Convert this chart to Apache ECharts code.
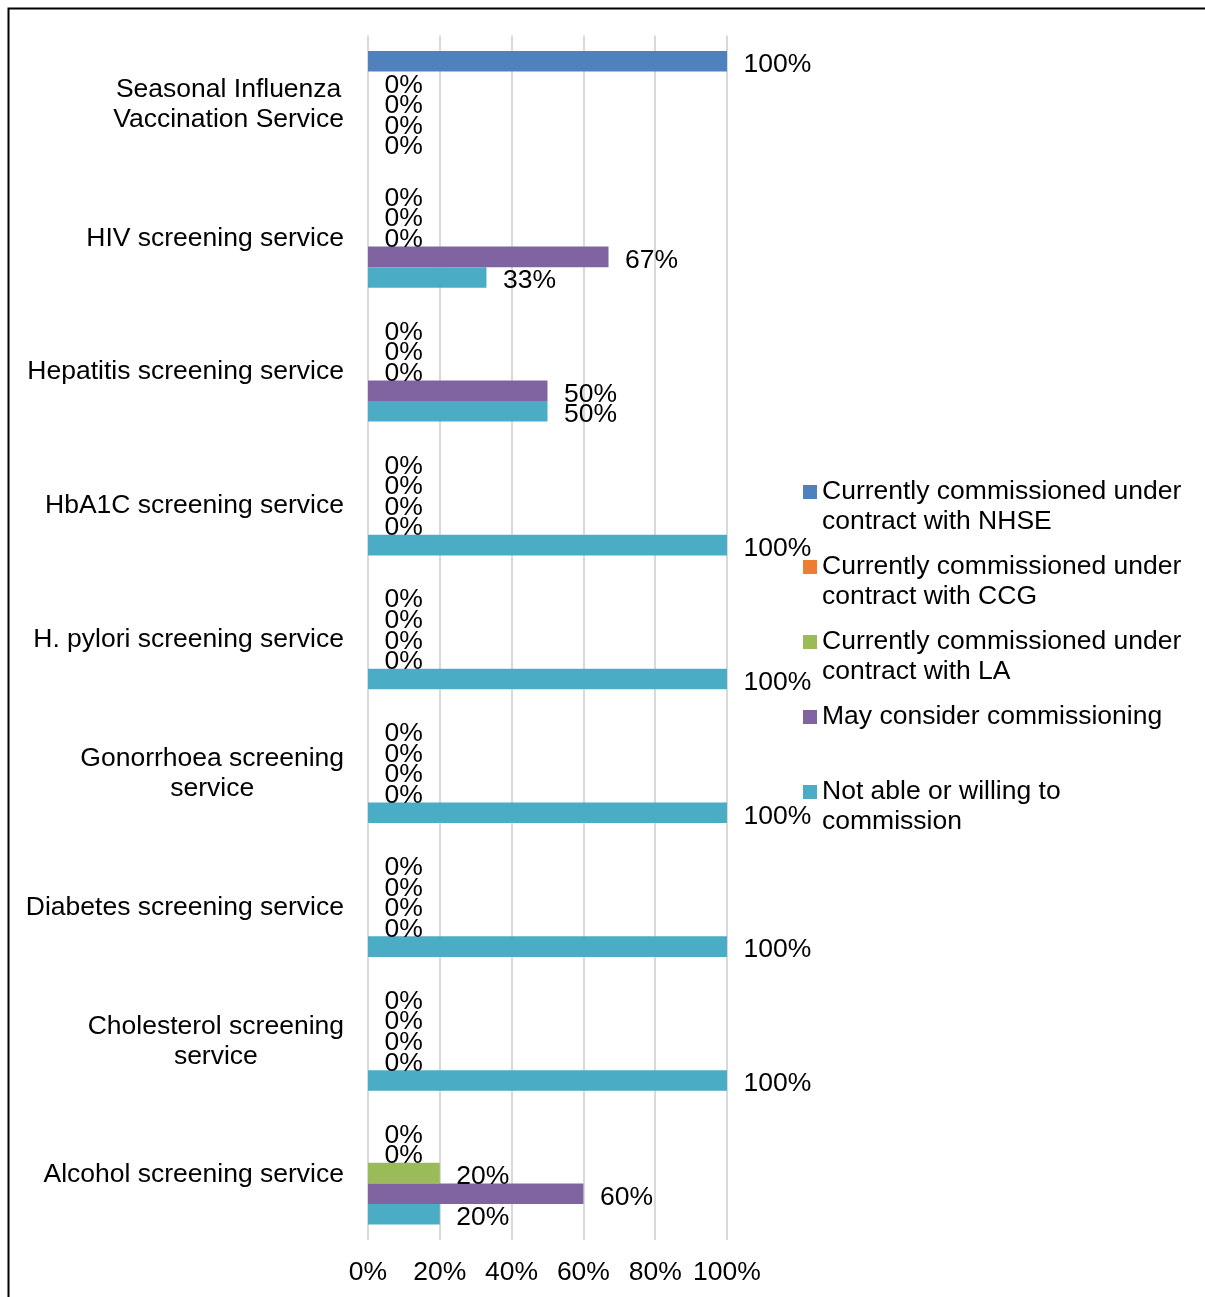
<!DOCTYPE html>
<html><head><meta charset="utf-8">
<script src="https://cdn.jsdelivr.net/npm/echarts@6/dist/echarts.min.js"></script>
<style>html,body{margin:0;padding:0;background:#fff}#c{width:1205px;height:1297px}</style>
</head><body><div id="c"></div>
<script>
const categories = [
  'Seasonal Influenza\nVaccination Service',
  'HIV screening service',
  'Hepatitis screening service',
  'HbA1C screening service',
  'H. pylori screening service',
  'Gonorrhoea screening\nservice',
  'Diabetes screening service',
  'Cholesterol screening\nservice',
  'Alcohol screening service'
];
const seriesNames = [
  'Currently commissioned under contract with NHSE',
  'Currently commissioned under contract with CCG',
  'Currently commissioned under contract with LA',
  'May consider commissioning',
  'Not able or willing to commission'
];
const legendLabels = [
  'Currently commissioned under\ncontract with NHSE',
  'Currently commissioned under\ncontract with CCG',
  'Currently commissioned under\ncontract with LA',
  'May consider commissioning',
  'Not able or willing to\ncommission'
];
const nhse        = [100, 0, 0, 0, 0, 0, 0, 0, 0];
const ccg         = [0, 0, 0, 0, 0, 0, 0, 0, 0];
const la          = [0, 0, 0, 0, 0, 0, 0, 0, 20];
const mayConsider = [0, 67, 50, 0, 0, 0, 0, 0, 60];
const notAble     = [0, 33, 50, 100, 100, 100, 100, 100, 20];
const xTickLabels = ['0%', '20%', '40%', '60%', '80%', '100%'];
const colors = ['#4F81BD', '#ED7D31', '#9BBB59', '#8064A2', '#4BACC6'];

const FONT = "'Liberation Sans', Arial, sans-serif";
const FS = 26.5;
const seriesData = [nhse, ccg, la, mayConsider, notAble];
const legendIconCenters = [492, 567, 642, 717, 792];

const chart = echarts.init(document.getElementById('c'), null, {renderer: 'canvas'});
const option = {
  backgroundColor: '#fff',
  animation: false,
  color: colors,
  textStyle: {fontFamily: FONT, color: '#000'},
  graphic: [{
    type: 'rect', left: 6, top: 6, silent: true, z: 100,
    shape: {x: 0, y: 0, width: 1400, height: 1500},
    style: {fill: 'none', stroke: '#000', lineWidth: 2}
  }],
  grid: {left: 368, right: 478, top: 35.5, bottom: 57},
  xAxis: {
    type: 'value', min: 0, max: 100, interval: 20,
    axisLine: {show: false}, axisTick: {show: false},
    splitLine: {show: true, lineStyle: {color: '#D9D9D9', width: 2}},
    axisLabel: {
      margin: 19, fontSize: FS, fontFamily: FONT, color: '#000',
      formatter: v => xTickLabels[Math.round(v / 20)]
    }
  },
  yAxis: {
    type: 'category', data: categories, inverse: true,
    axisLine: {show: false}, axisTick: {show: false},
    axisLabel: {
      margin: 24, align: 'right', color: '#000', padding: [4, 0, 0, 0],
      formatter: v => '{a|' + v + '}',
      rich: {a: {align: 'center', fontSize: FS, lineHeight: 30, fontFamily: FONT, color: '#000'}}
    }
  },
  legend: seriesNames.map((n, i) => {
    const multi = legendLabels[i].indexOf('\n') >= 0;
    return {
      data: [n], left: 803, top: legendIconCenters[i] - (multi ? 45 : 15), padding: 0,
      orient: 'vertical', selectedMode: false,
      icon: 'rect', itemWidth: 14, itemHeight: 14,
      formatter: () => (multi ? '\n' : '') + legendLabels[i],
      textStyle: {fontSize: FS, fontFamily: FONT, color: '#000', lineHeight: 30}
    };
  }),
  series: seriesNames.map((n, i) => ({
    name: n, type: 'bar', data: seriesData[i],
    barGap: '0%', barCategoryGap: '23%',
    itemStyle: {color: colors[i]},
    label: {
      show: true, position: 'right', distance: 16.5, offset: [0, 3.5],
      formatter: '{c}%', fontSize: FS, fontFamily: FONT, color: '#000'
    }
  }))
};
chart.setOption(option);
</script>
</body></html>
